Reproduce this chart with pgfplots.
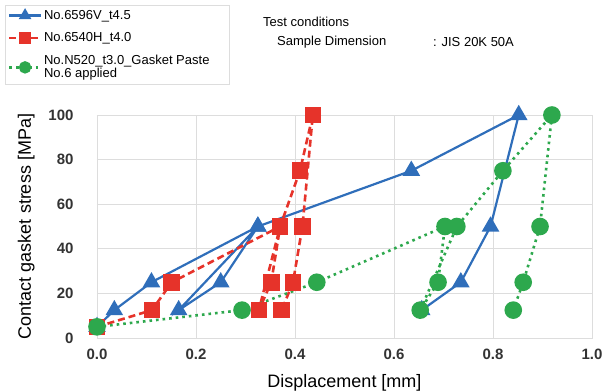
\documentclass[border=0pt]{standalone}
\usepackage{pgfplots}
\pgfplotsset{compat=1.18}
\usepackage{fontspec}
\setmainfont{Liberation Sans}
\definecolor{cblue}{HTML}{2F6EBA}
\definecolor{cred}{HTML}{E6332A}
\definecolor{cgreen}{HTML}{2DA84D}
\definecolor{cgrid}{HTML}{DDDDDD}
\definecolor{ctick}{HTML}{333333}
\begin{document}
\begin{tikzpicture}
\path[use as bounding box] (0,0) rectangle (603pt,391pt);
\begin{axis}[
  at={(97pt,53pt)}, anchor=south west,
  scale only axis, width=495pt, height=223pt,
  xmin=0, xmax=1, ymin=0, ymax=100,
  xtick={0,0.2,0.4,0.6,0.8,1.0},
  ytick={0,20,40,60,80,100},
  grid=major, grid style={cgrid, line width=0.8pt},
  axis line style={cgrid, line width=0.8pt},
  major tick length=0pt,
  /pgf/number format/assume math mode=true,
  xticklabel={\pgfmathprintnumber[fixed,fixed zerofill,precision=1]{\tick}},
  ticklabel style={font=\fontsize{15}{15}\selectfont\bfseries, text=ctick},
  xticklabel style={yshift=-7pt},
  yticklabel style={xshift=-20pt},
  xlabel={Displacement [mm]},
  ylabel={Contact gasket stress [MPa]},
  label style={font=\fontsize{18}{18}\selectfont},
  xlabel style={yshift=-8pt},
  ylabel style={yshift=7pt},
  legend style={at={(axis description cs:-0.186,1.493)}, anchor=north west,
    draw=cgrid, font=\fontsize{13}{11}\selectfont,
    cells={align=left, anchor=west},
    row sep=8pt, inner sep=3pt},
  legend image code/.code={\draw[mark repeat=2,mark phase=2] plot coordinates {(0cm,0cm) (0.55cm,0cm) (1.1cm,0cm)};},
  legend image post style={mark options={scale=0.65, solid}},
]
\addplot[cblue, line width=2.2pt, mark=triangle*, mark size=8pt, mark options={solid}] coordinates {
(0,5) (0.035,12.5) (0.11,25) (0.325,50) (0.25,25) (0.165,12.5) (0.325,50) (0.635,75) (0.852,100) (0.795,50) (0.735,25) (0.656,12.5)};
\addlegendentry{\makebox[180pt][l]{No.6596V\_t4.5}}
\addplot[cred, line width=2.6pt, dash pattern=on 7pt off 4pt, mark=square*, mark size=7pt, mark options={solid}] coordinates {
(0,5) (0.111,12.5) (0.151,25) (0.37,50) (0.352,25) (0.327,12.5) (0.37,50) (0.41,75) (0.436,100) (0.415,50) (0.396,25) (0.373,12.5)};
\addlegendentry{No.6540H\_t4.0}
\addplot[cgreen, line width=2.6pt, dash pattern=on 2.6pt off 4pt, mark=*, mark size=7.5pt, mark options={solid}] coordinates {
(0,5) (0.293,12.5) (0.444,25) (0.703,50) (0.689,25) (0.653,12.5) (0.727,50) (0.82,75) (0.919,100) (0.895,50) (0.861,25) (0.841,12.5)};
\addlegendentry{No.N520\_t3.0\_Gasket Paste\\No.6 applied}
\end{axis}
\node[anchor=west, font=\fontsize{13}{13}\selectfont, inner sep=0pt] at (263pt,369pt) {Test conditions};
\node[anchor=west, font=\fontsize{13}{13}\selectfont, inner sep=0pt] at (277pt,349pt) {Sample Dimension};
\node[anchor=west, font=\fontsize{13}{13}\selectfont, inner sep=0pt] at (433pt,349pt) {: JIS 20K 50A};
\end{tikzpicture}
\end{document}
